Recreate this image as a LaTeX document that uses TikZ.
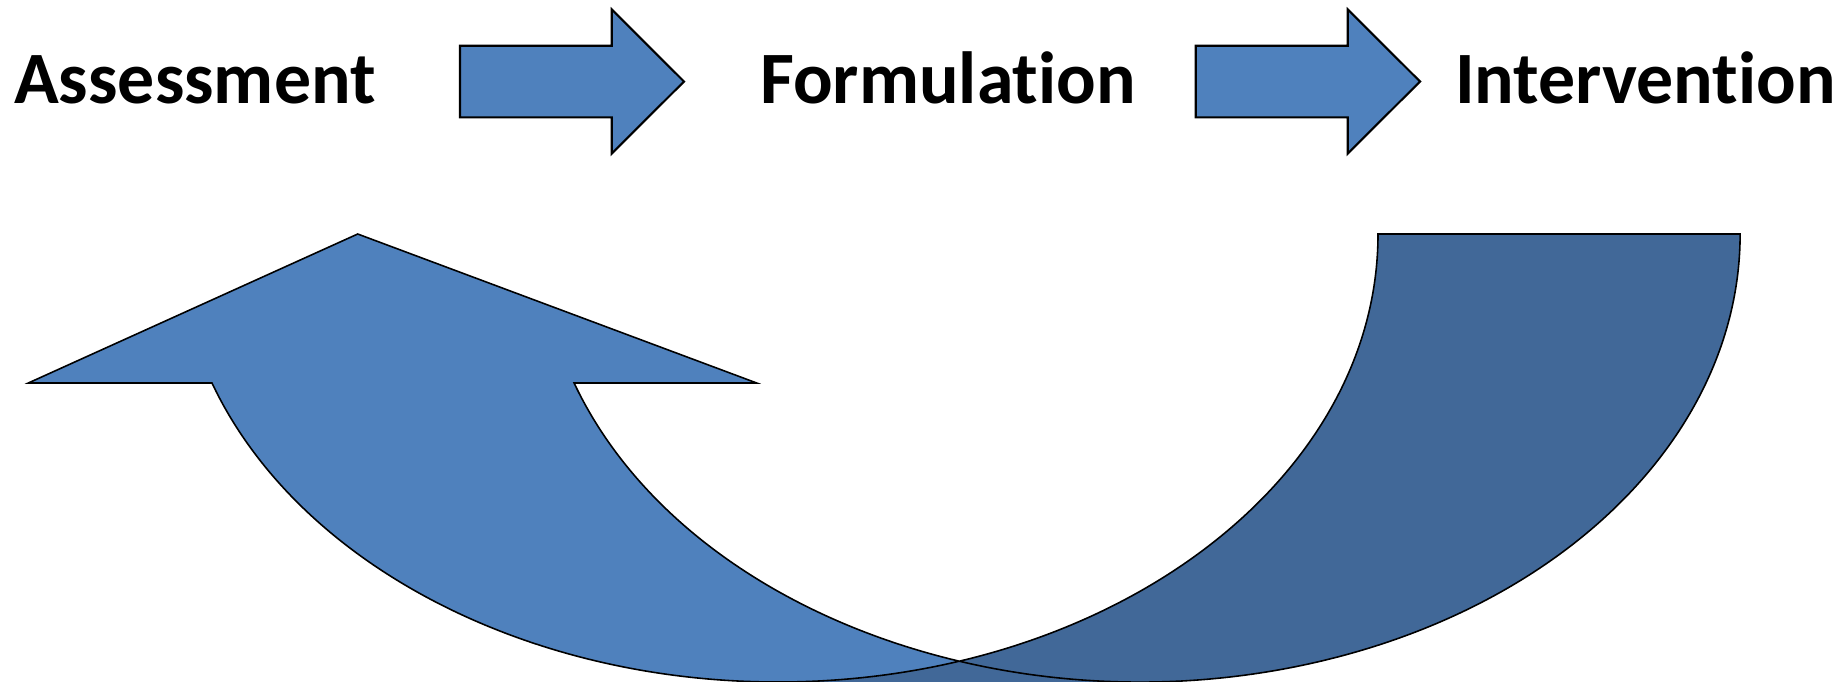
\documentclass[tikz,border=0pt]{standalone}
\usepackage{fontspec}
\setmainfont{Carlito}[Ligatures={NoCommon,NoRare,NoContextual}]
\definecolor{lightblue}{RGB}{79,129,189}
\definecolor{darkblue}{RGB}{65,104,152}
\begin{document}
\begin{tikzpicture}[x=0.01cm,y=-0.01cm,
  label/.style={inner sep=0pt,anchor=base,font=\fontsize{21}{25}\selectfont\bfseries},
  blockarrow/.style={fill=lightblue,draw=black,line width=0.6pt,line join=miter},
  bandline/.style={draw=black,line width=0.45pt,line join=miter}]
\useasboundingbox (0,0) rectangle (1843,681);

% labels
\node[label] (assess) at (195,103) {Assessment};
\node[label] (form) at (948,103) {Formulation};
\node[label] (interv) at (1645.5,103) {Intervention};

% straight block arrows
\draw[blockarrow] (460,45.7) -- (611.7,45.7) -- (611.7,9.3) -- (684,81.5)
  -- (611.7,153.7) -- (611.7,117.3) -- (460,117.3) -- cycle;
\draw[blockarrow] (1195.7,45.7) -- (1347.7,45.7) -- (1347.7,9.3) -- (1420,81.5)
  -- (1347.7,153.7) -- (1347.7,117.3) -- (1195.7,117.3) -- cycle;

% curved arrow: ellipses A (centre 777.9,234) and B (centre 1139.9,234), radii 600.1 x 448
\coordinate (apex) at (357.7,234);
\coordinate (lwing) at (28.3,383);
\coordinate (rwing) at (756.7,383);
% light part
\fill[lightblue] (apex) -- (rwing) -- (574.1,383)
  arc[start angle=160.57,end angle=107.56,x radius=600.1,y radius=448]
  arc[start angle=72.44,end angle=160.57,x radius=600.1,y radius=448]
  -- (lwing) -- cycle;
% dark part
\fill[darkblue] (777.9,682)
  arc[start angle=90,end angle=0,x radius=600.1,y radius=448]
  -- (1740,234)
  arc[start angle=0,end angle=90,x radius=600.1,y radius=448]
  -- cycle;
% outline
\draw[bandline] (apex) -- (rwing) -- (574.1,383)
  arc[start angle=160.57,end angle=0,x radius=600.1,y radius=448]
  -- (1378,234)
  arc[start angle=0,end angle=160.57,x radius=600.1,y radius=448]
  -- (lwing) -- cycle;
\end{tikzpicture}
\end{document}
